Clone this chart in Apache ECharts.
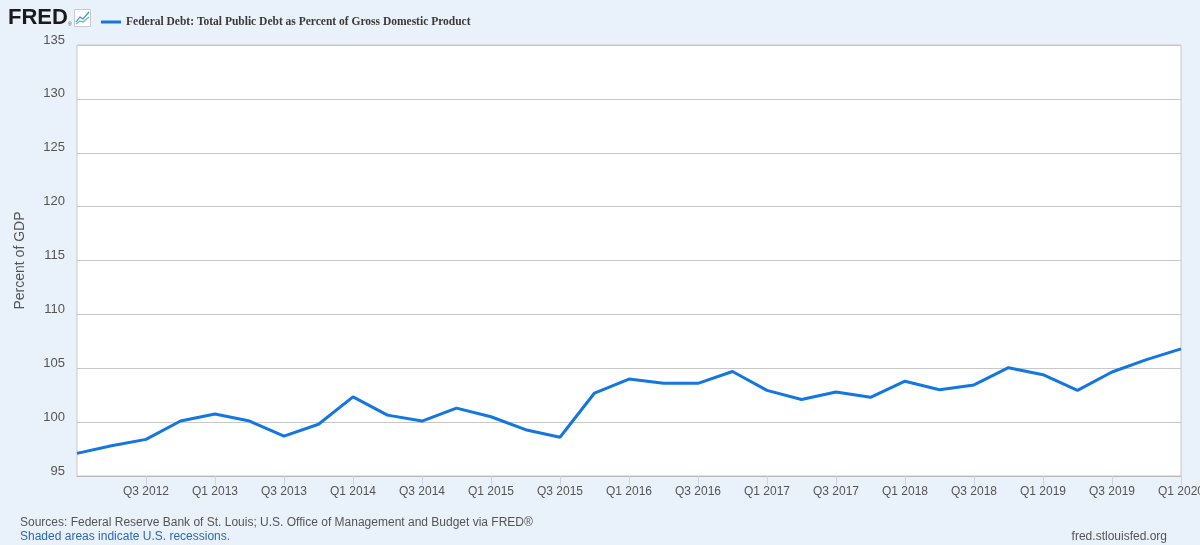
<!DOCTYPE html>
<html lang="en" style="height: 100%">
<head>
    <meta charset="UTF-8">
    <title>Federal Debt: Total Public Debt as Percent of GDP</title>
    <script src="https://cdn.jsdelivr.net/npm/echarts@6/dist/echarts.min.js"></script>
</head>
<body style="height: 100%; margin: 0; background: #e9f1fa">
<div id="main" style="width: 1200px; height: 545px"></div>
<script>
    // quarters, Q1 2012 .. Q1 2020
    var quarters = [
        'Q1 2012', 'Q2 2012', 'Q3 2012', 'Q4 2012',
        'Q1 2013', 'Q2 2013', 'Q3 2013', 'Q4 2013',
        'Q1 2014', 'Q2 2014', 'Q3 2014', 'Q4 2014',
        'Q1 2015', 'Q2 2015', 'Q3 2015', 'Q4 2015',
        'Q1 2016', 'Q2 2016', 'Q3 2016', 'Q4 2016',
        'Q1 2017', 'Q2 2017', 'Q3 2017', 'Q4 2017',
        'Q1 2018', 'Q2 2018', 'Q3 2018', 'Q4 2018',
        'Q1 2019', 'Q2 2019', 'Q3 2019', 'Q4 2019',
        'Q1 2020'
    ];
    // percent of GDP
    var debtPct = [
        97.1, 97.8, 98.4, 100.1,
        100.75, 100.1, 98.7, 99.8,
        102.35, 100.65, 100.1, 101.3,
        100.5, 99.3, 98.6, 102.7,
        104.0, 103.6, 103.6, 104.7,
        102.95, 102.1, 102.8, 102.3,
        103.8, 103.0, 103.45, 105.05,
        104.4, 102.95, 104.65, 105.8,
        106.8
    ];
    var yMin = 95, yMax = 135, yStep = 5;

    var seriesName = 'Federal Debt: Total Public Debt as Percent of Gross Domestic Product';
    var showEveryOther = function (idx) { return idx > 0 && idx % 2 === 0; };

    var myoption = {
        backgroundColor: '#e9f1fa',
        animation: false,
        legend: {
            left: 96,
            top: 11,
            itemWidth: 20,
            itemHeight: 3,
            itemGap: 4,
            icon: 'rect',
            textStyle: {
                fontFamily: 'Liberation Serif',
                fontWeight: 'bold',
                fontSize: 11.5,
                color: '#3a3a3a'
            },
            data: [seriesName]
        },
        grid: {
            left: 77,
            right: 19,
            top: 45,
            bottom: 69,
            outerBoundsMode: 'none',
            containLabel: false,
            show: true,
            backgroundColor: '#ffffff',
            borderColor: '#c8c8c8',
            borderWidth: 1
        },
        xAxis: {
            type: 'category',
            boundaryGap: false,
            data: quarters,
            axisLine: { lineStyle: { color: '#b8b8b8' } },
            axisTick: {
                interval: showEveryOther,
                length: 9,
                lineStyle: { color: '#ccd6eb' }
            },
            axisLabel: {
                interval: showEveryOther,
                margin: 10,
                fontFamily: 'Liberation Sans',
                fontSize: 12,
                color: '#555'
            }
        },
        yAxis: {
            type: 'value',
            min: yMin,
            max: yMax,
            interval: yStep,
            name: 'Percent of GDP',
            nameLocation: 'middle',
            nameGap: 50,
            nameTextStyle: {
                fontFamily: 'Liberation Sans',
                fontSize: 14,
                color: '#555'
            },
            axisLine: { show: false },
            axisTick: { show: false },
            splitLine: { lineStyle: { color: '#c8c8c8' } },
            axisLabel: {
                verticalAlign: 'bottom',
                lineHeight: 10,
                margin: 12,
                fontFamily: 'Liberation Sans',
                fontSize: 13,
                color: '#555'
            }
        },
        graphic: [
            {
                type: 'text', left: 8, top: 7,
                style: { text: 'FRED', fontFamily: 'Liberation Sans', fontWeight: 'bold', fontSize: 22, fill: '#1a1a1a' }
            },
            {
                type: 'text', left: 68, top: 22,
                style: { text: '\u00ae', fontFamily: 'Liberation Sans', fontSize: 5, fill: '#555' }
            },
            {
                type: 'rect', left: 74, top: 9,
                shape: { width: 16, height: 17 },
                style: { fill: '#fff', stroke: '#c8ccd2', lineWidth: 1 }
            },
            {
                type: 'polyline',
                shape: { points: [[76, 22], [80, 17], [83, 19], [89, 12]] },
                style: { stroke: '#3b8de0', lineWidth: 1.2, fill: null }
            },
            {
                type: 'polyline',
                shape: { points: [[76, 24], [80, 21], [83, 22], [89, 17]] },
                style: { stroke: '#5cc3a4', lineWidth: 1.2, fill: null }
            },
            {
                type: 'text', left: 20, top: 517,
                style: {
                    text: 'Sources: Federal Reserve Bank of St. Louis; U.S. Office of Management and Budget via FRED\u00ae',
                    fontFamily: 'Liberation Sans', fontSize: 12, fill: '#555'
                }
            },
            {
                type: 'text', left: 20, top: 531,
                style: {
                    text: 'Shaded areas indicate U.S. recessions.',
                    fontFamily: 'Liberation Sans', fontSize: 12, fill: '#2a6ab8'
                }
            },
            {
                type: 'text', right: 33, top: 531,
                style: {
                    text: 'fred.stlouisfed.org',
                    fontFamily: 'Liberation Sans', fontSize: 12, fill: '#555'
                }
            }
        ],
        series: [
            {
                name: seriesName,
                type: 'line',
                data: debtPct,
                symbol: 'none',
                color: '#1476e0',
                lineStyle: { width: 3, color: '#1476e0' }
            }
        ]
    };
    var myChart = echarts.init(document.getElementById('main'));
    myChart.setOption(myoption);
</script>
</body>
</html>
